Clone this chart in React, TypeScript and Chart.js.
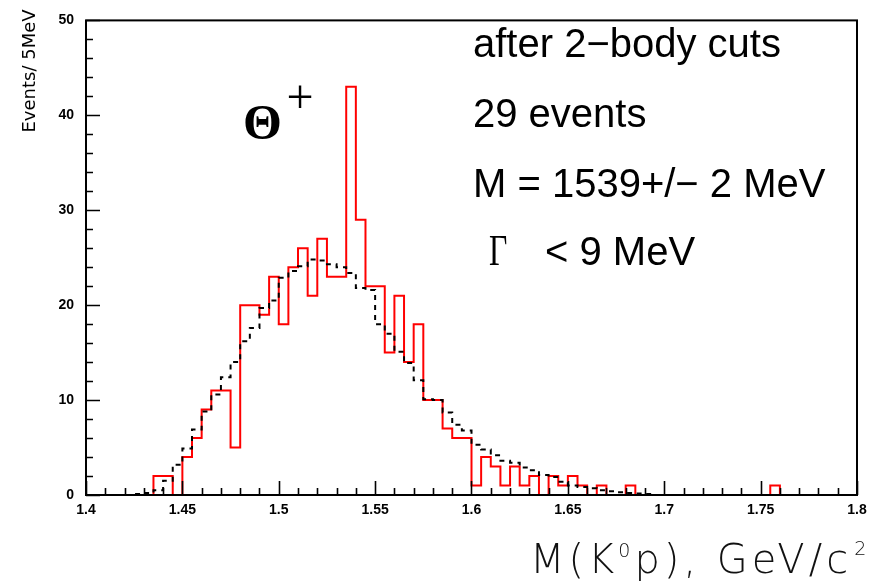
import { useEffect, useRef } from "react";
import { Chart, registerables } from "chart.js";

Chart.register(...registerables);

// ---- axis definitions ----
const X_MIN = 1.4;
const X_MAX = 1.8;
const BIN_WIDTH = 0.005;
const Y_MIN = 0;
const Y_MAX = 50;

const xTickValues = [1.4, 1.45, 1.5, 1.55, 1.6, 1.65, 1.7, 1.75, 1.8];
const xTickLabels = ["1.4", "1.45", "1.5", "1.55", "1.6", "1.65", "1.7", "1.75", "1.8"];
const yTickValues = [0, 10, 20, 30, 40, 50];
const yTickLabels = ["0", "10", "20", "30", "40", "50"];

// ---- data: events per 5 MeV bin, 80 bins from 1.400 to 1.800 GeV ----
const dataCounts = [
  0, 0, 0, 0, 0, 0, 0, 2, 2, 0,
  4, 6, 9, 11, 11, 5, 20, 20, 19, 23,
  18, 24, 26, 21, 27, 23, 23, 43, 29, 22,
  22, 15, 21, 14, 18, 10, 10, 7, 6, 6,
  1, 4, 3, 1, 3, 1, 2, 0, 2, 1,
  2, 1, 0, 1, 0, 0, 1, 0, 0, 0,
  0, 0, 0, 0, 0, 0, 0, 0, 0, 0,
  0, 1, 0, 0, 0, 0, 0, 0, 0, 0,
];

// background / fit histogram (dashed)
const fitCounts = [
  0, 0, 0, 0, 0, 0.1, 0.2, 0.5, 1.5, 3.2,
  4.9, 6.9, 8.8, 10.6, 12.4, 14.0, 16.2, 17.6, 19.7, 20.5,
  22.9, 23.6, 24.1, 24.8, 24.7, 24.3, 24.0, 23.4, 21.8, 21.6,
  18.0, 17.0, 15.1, 13.9, 12.1, 10.1, 10.0, 8.7, 7.4, 6.8,
  5.3, 4.8, 4.2, 3.6, 3.4, 2.9, 2.6, 2.1, 1.9, 1.4,
  1.0, 0.85, 0.7, 0.5, 0.4, 0.3, 0.2, 0.15, 0.1, 0,
  0, 0, 0, 0, 0, 0, 0, 0, 0, 0,
  0, 0, 0, 0, 0, 0, 0, 0, 0, 0,
];

// ---- texts ----
const infoLines = ["after 2\u2212body cuts", "29 events", "M = 1539+/\u2212 2 MeV"];
const widthSymbol = "\u0393";
const widthText = "< 9 MeV";
const peakSymbol = "\u0398";
const peakCharge = "+";
const yTitle = "Events/ 5MeV";
const xTitleParts = ["M(K", "0", "p), GeV/c", "2"];

function stepPoints(values: number[]) {
  const pts = values.map((v, i) => ({ x: X_MIN + i * BIN_WIDTH, y: v }));
  pts.push({ x: X_MAX, y: values[values.length - 1] });
  return pts;
}

const framePlugin = {
  id: "frame",
  afterDatasetsDraw(chart: any) {
    const { ctx, chartArea } = chart;
    const { left, right, top, bottom } = chartArea;
    const xs = chart.scales.x;
    const ys = chart.scales.y;
    ctx.save();
    ctx.strokeStyle = "#000";
    ctx.lineWidth = 2;
    ctx.strokeRect(left, top, right - left, bottom - top);
    ctx.lineWidth = 1.6;
    ctx.beginPath();
    for (let k = 0; k <= 40; k++) {
      const v = X_MIN + k * 0.01;
      const px = Math.round(xs.getPixelForValue(v)) + 0.5;
      const len = k % 5 === 0 ? 14 : 7;
      ctx.moveTo(px, bottom);
      ctx.lineTo(px, bottom - len);
    }
    for (let k = 0; k <= 25; k++) {
      const v = k * 2;
      const py = Math.round(ys.getPixelForValue(v)) + 0.5;
      const len = k % 5 === 0 ? 14 : 7;
      ctx.moveTo(left, py);
      ctx.lineTo(left + len, py);
    }
    ctx.stroke();
    ctx.restore();
  },
};

const textPlugin = {
  id: "texts",
  afterDraw(chart: any) {
    const { ctx } = chart;
    ctx.save();
    ctx.fillStyle = "#000";
    ctx.textAlign = "left";
    ctx.textBaseline = "alphabetic";
    ctx.font = "40px 'Liberation Sans', Arial, sans-serif";
    ctx.fillText(infoLines[0], 473, 57);
    ctx.fillText(infoLines[1], 473, 127);
    ctx.fillText(infoLines[2], 473, 197);
    ctx.fillText(widthText, 545, 265);

    // Gamma (serif, narrow)
    ctx.save();
    ctx.translate(489, 265);
    ctx.scale(0.72, 1);
    ctx.font = "44px 'Liberation Serif', 'Times New Roman', serif";
    ctx.fillText(widthSymbol, 0, 0);
    ctx.restore();

    // Theta+
    ctx.font = "bold 50px 'Liberation Serif', 'Times New Roman', serif";
    ctx.fillText(peakSymbol, 243, 139);
    ctx.font = "48px 'Liberation Serif', 'Times New Roman', serif";
    ctx.textAlign = "center";
    ctx.fillText(peakCharge, 300, 113);

    // y title
    ctx.save();
    ctx.translate(35, 71);
    ctx.rotate(-Math.PI / 2);
    ctx.textAlign = "center";
    ctx.textBaseline = "alphabetic";
    ctx.font = "18px 'DejaVu Sans', sans-serif";
    ctx.fillText(yTitle, 0, 0);
    ctx.restore();

    // x title
    ctx.textAlign = "left";
    ctx.fillStyle = "#111";
    (ctx as any).letterSpacing = "4px";
    const mainFont = "200 40px 'DejaVu Sans', sans-serif";
    const supFont = "200 19px 'DejaVu Sans', sans-serif";
    const base = 573;
    let x = 530;
    ctx.font = mainFont;
    ctx.fillText(xTitleParts[0], x, base);
    x += ctx.measureText(xTitleParts[0]).width;
    ctx.font = supFont;
    ctx.fillText(xTitleParts[1], x, base - 16);
    x += ctx.measureText(xTitleParts[1]).width;
    ctx.font = mainFont;
    ctx.fillText(xTitleParts[2], x, base);
    x += ctx.measureText(xTitleParts[2]).width;
    ctx.font = supFont;
    ctx.fillText(xTitleParts[3], x + 2, base - 18);
    (ctx as any).letterSpacing = "0px";
    ctx.restore();
  },
};

export default function App() {
  const ref = useRef<HTMLCanvasElement | null>(null);
  useEffect(() => {
    if (!ref.current) return;
    document.body.style.margin = "0";
    const tickFont = { family: "'Liberation Sans', Arial, sans-serif", size: 14, weight: "bold" as const };
    const chart = new Chart(ref.current, {
      type: "line",
      data: {
        datasets: [
          {
            label: "fit",
            data: stepPoints(fitCounts),
            stepped: "before",
            borderColor: "#000",
            borderWidth: 2,
            borderDash: [5, 5],
            pointRadius: 0,
            fill: false,
          },
          {
            label: "data",
            data: stepPoints(dataCounts),
            stepped: "before",
            borderColor: "#ff0000",
            borderWidth: 2,
            pointRadius: 0,
            fill: false,
          },
        ],
      },
      options: {
        animation: false,
        responsive: false,
        maintainAspectRatio: false,
        parsing: false,
        layout: { padding: { top: 14, right: 20, left: 0, bottom: 0 } },
        plugins: { legend: { display: false }, tooltip: { enabled: false }, title: { display: false } },
        scales: {
          x: {
            type: "linear",
            min: X_MIN,
            max: X_MAX,
            grid: { display: false, drawTicks: false },
            border: { display: false },
            afterBuildTicks: (s: any) => {
              s.ticks = xTickValues.map((v) => ({ value: v }));
            },
            afterFit: (s: any) => {
              s.height = 88;
            },
            ticks: {
              autoSkip: false,
              maxRotation: 0,
              padding: 7,
              color: "#000",
              font: tickFont,
              callback: (_v: any, i: number) => xTickLabels[i],
            },
          },
          y: {
            type: "linear",
            min: Y_MIN,
            max: Y_MAX,
            grid: { display: false, drawTicks: false },
            border: { display: false },
            afterBuildTicks: (s: any) => {
              s.ticks = yTickValues.map((v) => ({ value: v }));
            },
            afterFit: (s: any) => {
              s.width = 86;
            },
            ticks: {
              padding: 12,
              color: "#000",
              font: tickFont,
              callback: (_v: any, i: number) => yTickLabels[i],
            },
          },
        },
      } as any,
      plugins: [framePlugin, textPlugin],
    });
    return () => chart.destroy();
  }, []);
  return (
    <div style={{ position: "absolute", left: 0, top: 0, width: 877, height: 583, background: "#fff" }}>
      <canvas ref={ref} width={877} height={583} style={{ display: "block" }} />
    </div>
  );
}
